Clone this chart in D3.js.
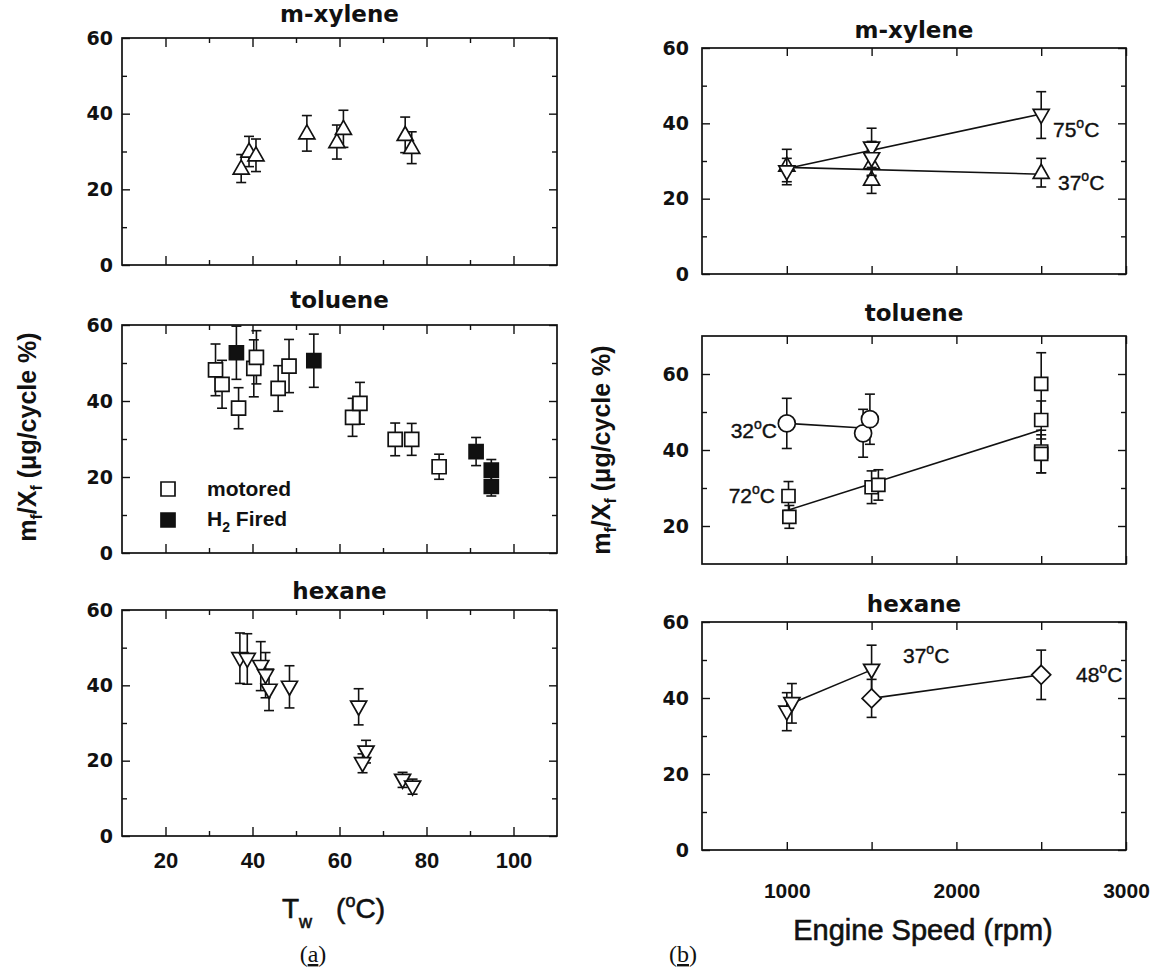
<!DOCTYPE html>
<html>
<head>
<meta charset="utf-8">
<script src="https://cdn.jsdelivr.net/npm/d3@7"></script>
<style>
  body { margin: 0; background: #fff; }
  svg { display: block; }
</style>
</head>
<body>
<div class="canvas"></div>
<script>
// ---- (a) wall temperature panels ----
// m-xylene
const xylTw  = [37.4, 39.2, 40.8, 52.5, 59.4, 60.9, 75.1, 76.6]
const xylVal = [25.5, 30.0, 29.0, 34.8, 32.5, 36.0, 34.4, 31.0]
const xylErr = [3.7, 4.0, 4.3, 4.7, 4.5, 4.9, 4.7, 4.2]

// toluene, motored
const tolMotTw  = [31.5, 33.0, 36.8, 40.3, 40.9, 45.9, 48.4, 63.0, 64.7, 72.8, 76.6, 82.9]
const tolMotVal = [48.2, 44.4, 38.1, 48.6, 51.5, 43.3, 49.2, 35.7, 39.4, 29.9, 29.9, 22.7]
const tolMotErr = [6.8, 6.3, 5.4, 7.5, 7.0, 6.0, 7.0, 5.0, 5.5, 4.3, 4.2, 3.3]
// toluene, H2 fired
const tolFirTw  = [36.3, 54.1, 91.4, 94.9, 94.9]
const tolFirVal = [52.7, 50.6, 26.7, 21.8, 17.5]
const tolFirErr = [7.0, 7.0, 3.7, 2.8, 2.5]

// hexane
const hexTw  = [37.1, 38.8, 41.9, 43.0, 43.8, 48.5, 64.4, 66.1, 65.3, 74.5, 76.8]
const hexVal = [47.2, 47.0, 45.1, 42.7, 38.8, 39.6, 34.3, 22.4, 19.3, 14.9, 13.1]
const hexErr = [6.7, 6.7, 6.5, 6.0, 5.5, 5.6, 4.8, 3.0, 2.5, 2.0, 2.0]

// ---- (b) engine speed panels ----
const xyl37Rpm = [1000, 1500, 1500, 2500]
const xyl37Val = [28.8, 29.4, 25.1, 26.9]
const xyl37Err = [4.3, 3.5, 3.7, 3.8]
const xyl75Rpm = [1000, 1500, 1500, 2500]
const xyl75Val = [27.2, 33.5, 30.7, 42.2]
const xyl75Err = [3.5, 5.2, 4.5, 6.2]
const xyl37Line = [[1000, 28.3], [2500, 26.5]]
const xyl75Line = [[1000, 28.0], [2500, 42.5]]

const tol32Rpm = [1000, 1450, 1490]
const tol32Val = [47.0, 44.4, 48.1]
const tol32Err = [6.6, 6.3, 6.6]
const tol72Rpm = [1010, 1015, 1500, 1540, 2500, 2500, 2500, 2500]
const tol72Val = [27.9, 22.4, 30.2, 30.8, 57.4, 47.9, 39.6, 39.0]
const tol72Err = [3.8, 3.0, 4.3, 4.0, 8.2, 5.0, 5.6, 5.0]
const tol32Line = [[1000, 47.0], [1450, 45.8]]
const tol72Line = [[1015, 24.3], [2500, 45.3]]

const hex37Rpm = [1000, 1030, 1500]
const hex37Val = [36.4, 38.6, 47.4]
const hex37Err = [5.0, 5.2, 6.5]
const hex48Rpm = [1500, 2500]
const hex48Val = [39.9, 46.1]
const hex48Err = [5.0, 6.5]
const hex37Line = [[1030, 38.6], [1500, 47.4]]
const hex48Line = [[1500, 39.9], [2500, 46.1]]

const twTicks = [20, 40, 60, 80, 100]
const twMinor = [30, 50, 70, 90]
const rpmTicks = [1000, 1500, 2000, 2500, 3000]
const rpmLabels = [1000, 2000, 3000]
const valTicks = [0, 20, 40, 60]
const valMinor = [10, 30, 50]
const tolValTicks = [20, 40, 60]
const tolValMinor = [30, 50]

const ink = '#111'

const svg = d3.select('.canvas')
    .append('svg')
    .attr('width', 1162)
    .attr('height', 970)
    .attr('viewBox', '0 0 1162 970')

const makePanel = (o) => {
    const x = d3.scaleLinear().domain(o.xDomain).range(o.xRange)
    const y = d3.scaleLinear().domain(o.yDomain).range(o.yRange)
    const g = svg.append('g')
    const [x0, x1] = o.xRange
    const [yb, yt] = o.yRange

    const addAxis = (axis, tx, ty, style) => {
        const a = g.append('g').attr('transform', `translate(${tx},${ty})`).call(axis)
        a.select('.domain').remove()
        a.attr('font-family', null).attr('font-size', null)
        a.selectAll('line').attr('stroke', ink).attr('stroke-width', 1.4)
        a.selectAll('text').attr('fill', ink)
            .style('font-family', style.family)
            .style('font-size', style.size + 'px')
            .style('font-weight', style.weight)
        return a
    }
    const none = { family: 'sans-serif', size: 1, weight: 'normal' }
    const xFmt = d => (o.showX && o.xLabels.includes(d)) ? d3.format('d')(d) : ''

    // bottom + top
    addAxis(d3.axisBottom(x).tickValues(o.xMajor).tickSize(-o.xMajLen).tickPadding(o.xPad)
        .tickFormat(xFmt), 0, yb, o.xStyle)
    addAxis(d3.axisBottom(x).tickValues(o.xMinor).tickSize(-o.xMinLen).tickFormat(''), 0, yb, none)
    addAxis(d3.axisTop(x).tickValues(o.xMajor).tickSize(-o.xMajLen).tickFormat(''), 0, yt, none)
    addAxis(d3.axisTop(x).tickValues(o.xMinor).tickSize(-o.xMinLen).tickFormat(''), 0, yt, none)
    // left + right
    addAxis(d3.axisLeft(y).tickValues(o.yMajor).tickSize(-8).tickPadding(o.yPad)
        .tickFormat(d3.format('d')), x0, 0, o.yStyle)
    addAxis(d3.axisLeft(y).tickValues(o.yMinor).tickSize(-5).tickFormat(''), x0, 0, none)
    addAxis(d3.axisRight(y).tickValues(o.yMajor).tickSize(-8).tickFormat(''), x1, 0, none)
    addAxis(d3.axisRight(y).tickValues(o.yMinor).tickSize(-5).tickFormat(''), x1, 0, none)

    g.append('rect')
        .attr('x', x0).attr('y', yt)
        .attr('width', x1 - x0).attr('height', yb - yt)
        .attr('fill', 'none').attr('stroke', ink).attr('stroke-width', 1.7)

    g.append('text')
        .attr('x', (x0 + x1) / 2).attr('y', o.titleY)
        .attr('text-anchor', 'middle')
        .attr('font-family', 'DejaVu Sans').attr('font-weight', 'bold').attr('font-size', 23)
        .attr('fill', ink)
        .text(o.title)

    return { x, y, g }
}

const shapePath = (shape) => {
    if (shape === 'up') return 'M0,-8.4L8,5.6L-8,5.6Z'
    if (shape === 'down') return 'M0,8.4L8,-5.6L-8,-5.6Z'
    if (shape === 'square') return 'M-7,-7H7V7H-7Z'
    if (shape === 'sqsmall') return 'M-6.5,-6.5H6.5V6.5H-6.5Z'
    if (shape === 'diamond') return 'M0,-9.5L9.5,0L0,9.5L-9.5,0Z'
    if (shape === 'circle') return 'M-8.5,0A8.5,8.5 0 1,0 8.5,0A8.5,8.5 0 1,0 -8.5,0Z'
}

const drawSeries = (p, xs, ys, es, shape, filled) => {
    const idx = d3.range(xs.length)
    const bars = p.g.append('g').attr('stroke', ink).attr('stroke-width', 1.6)
    bars.selectAll(null).data(idx).join('line')
        .attr('x1', i => p.x(xs[i])).attr('x2', i => p.x(xs[i]))
        .attr('y1', i => p.y(ys[i] - es[i])).attr('y2', i => p.y(ys[i] + es[i]))
    bars.selectAll(null).data(idx).join('line')
        .attr('x1', i => p.x(xs[i]) - 5).attr('x2', i => p.x(xs[i]) + 5)
        .attr('y1', i => p.y(ys[i] + es[i])).attr('y2', i => p.y(ys[i] + es[i]))
    bars.selectAll(null).data(idx).join('line')
        .attr('x1', i => p.x(xs[i]) - 5).attr('x2', i => p.x(xs[i]) + 5)
        .attr('y1', i => p.y(ys[i] - es[i])).attr('y2', i => p.y(ys[i] - es[i]))

    p.g.append('g').selectAll(null).data(idx).join('path')
        .attr('d', shapePath(shape))
        .attr('transform', i => `translate(${p.x(xs[i])},${p.y(ys[i])})`)
        .attr('fill', filled ? ink : '#fff')
        .attr('stroke', ink).attr('stroke-width', 1.7)
}

const drawFit = (p, pts) => {
    p.g.append('path')
        .datum(pts)
        .attr('fill', 'none').attr('stroke', ink).attr('stroke-width', 1.6)
        .attr('d', d3.line().x(d => p.x(d[0])).y(d => p.y(d[1])))
}

const note = (x, y, label, anchor) => {
    const t = svg.append('text')
        .attr('x', x).attr('y', y).attr('text-anchor', anchor || 'start')
        .attr('font-family', 'Liberation Sans, Arial, sans-serif').attr('font-size', 21)
        .attr('fill', ink).attr('stroke', ink).attr('stroke-width', 0.4)
    t.append('tspan').text(label.replace('°C', ''))
    t.append('tspan').attr('font-size', 14).attr('dy', -9).text('o')
    t.append('tspan').attr('dy', 9).text('C')
}

// ---------- column (a) ----------
const leftBase = {
    xDomain: [10, 110], xRange: [122, 557],
    xMajor: twTicks, xMinor: twMinor, xLabels: twTicks, xMajLen: 9, xMinLen: 5, xPad: 16,
    yDomain: [0, 60], yMajor: valTicks, yMinor: valMinor, yPad: 9,
    yStyle: { family: 'DejaVu Sans', size: 19, weight: 'bold' },
    xStyle: { family: 'Liberation Sans, Arial, sans-serif', size: 22, weight: 'bold' }
}

const pA1 = makePanel({ ...leftBase, yRange: [265, 38], title: 'm-xylene', titleY: 22, showX: false })
drawSeries(pA1, xylTw, xylVal, xylErr, 'up', false)

const pA2 = makePanel({ ...leftBase, yRange: [553, 325], title: 'toluene', titleY: 308, showX: false })
drawSeries(pA2, tolMotTw, tolMotVal, tolMotErr, 'square', false)
drawSeries(pA2, tolFirTw, tolFirVal, tolFirErr, 'square', true)

const pA3 = makePanel({ ...leftBase, yRange: [836, 610], title: 'hexane', titleY: 599, showX: true })
drawSeries(pA3, hexTw, hexVal, hexErr, 'down', false)

// legend in toluene panel
const legend = svg.append('g')
    .attr('font-family', 'Liberation Sans, Arial, sans-serif').attr('font-size', 21)
    .attr('font-weight', 'bold').attr('fill', ink)
legend.append('path').attr('d', shapePath('square')).attr('transform', 'translate(168,489)')
    .attr('fill', '#fff').attr('stroke', ink).attr('stroke-width', 1.7)
legend.append('path').attr('d', shapePath('square')).attr('transform', 'translate(168,520)')
    .attr('fill', ink).attr('stroke', ink).attr('stroke-width', 1.7)
legend.append('text').attr('x', 207).attr('y', 496).text('motored')
const h2 = legend.append('text').attr('x', 207).attr('y', 526)
h2.append('tspan').text('H')
h2.append('tspan').attr('font-size', 14).attr('dy', 6).text('2')
h2.append('tspan').attr('dy', -6).text(' Fired')

// ---------- column (b) ----------
const rightBase = {
    xDomain: [500, 3000], xRange: [702, 1126],
    xMajor: rpmTicks, xMinor: [], xLabels: rpmLabels, xMajLen: 8, xMinLen: 4, xPad: 33,
    yPad: 13,
    yStyle: { family: 'DejaVu Sans', size: 19, weight: 'bold' },
    xStyle: { family: 'Liberation Sans, Arial, sans-serif', size: 21, weight: 'bold' }
}

const pB1 = makePanel({ ...rightBase, yDomain: [0, 60], yRange: [274, 48], yMajor: valTicks, yMinor: valMinor,
    title: 'm-xylene', titleY: 38, showX: false })
drawFit(pB1, xyl37Line)
drawFit(pB1, xyl75Line)
drawSeries(pB1, xyl37Rpm, xyl37Val, xyl37Err, 'up', false)
drawSeries(pB1, xyl75Rpm, xyl75Val, xyl75Err, 'down', false)
note(1053, 137, '75°C')
note(1058, 190, '37°C')

const pB2 = makePanel({ ...rightBase, yDomain: [10, 70], yRange: [564, 336], yMajor: tolValTicks, yMinor: tolValMinor,
    title: 'toluene', titleY: 321, showX: false })
drawFit(pB2, tol32Line)
drawFit(pB2, tol72Line)
drawSeries(pB2, tol32Rpm, tol32Val, tol32Err, 'circle', false)
drawSeries(pB2, tol72Rpm, tol72Val, tol72Err, 'sqsmall', false)
note(777, 438, '32°C', 'end')
note(775, 503, '72°C', 'end')

const pB3 = makePanel({ ...rightBase, yDomain: [0, 60], yRange: [850, 622], yMajor: valTicks, yMinor: valMinor,
    title: 'hexane', titleY: 612, showX: true })
drawFit(pB3, hex37Line)
drawFit(pB3, hex48Line)
drawSeries(pB3, hex37Rpm, hex37Val, hex37Err, 'down', false)
drawSeries(pB3, hex48Rpm, hex48Val, hex48Err, 'diamond', false)
note(903, 663, '37°C')
note(1076, 682, '48°C')

// ---------- axis titles ----------
const yTitle = (x, y) => {
    const t = svg.append('text')
        .attr('transform', `translate(${x},${y}) rotate(-90)`)
        .attr('text-anchor', 'middle')
        .attr('font-family', 'Liberation Sans, Arial, sans-serif').attr('font-size', 25)
        .attr('font-weight', 'bold').attr('fill', ink)
    t.append('tspan').text('m')
    t.append('tspan').attr('font-size', 16).attr('dy', 6).text('f')
    t.append('tspan').attr('dy', -6).text('/X')
    t.append('tspan').attr('font-size', 16).attr('dy', 6).text('f')
    t.append('tspan').attr('dy', -6).text(' (μg/cycle %)')
}
yTitle(36, 437)
yTitle(610, 450)

const twTitle = svg.append('text')
    .attr('x', 282).attr('y', 918)
    .attr('font-family', 'Liberation Sans, Arial, sans-serif').attr('font-size', 28).attr('fill', ink)
    .attr('stroke', ink).attr('stroke-width', 0.6)
twTitle.append('tspan').text('T')
twTitle.append('tspan').attr('font-size', 18).attr('dy', 10).text('w')
twTitle.append('tspan').attr('dy', -10).attr('dx', 24).text('(')
twTitle.append('tspan').attr('font-size', 18).attr('dy', -11).text('o')
twTitle.append('tspan').attr('dy', 11).text('C)')

svg.append('text')
    .attr('x', 923).attr('y', 940).attr('text-anchor', 'middle')
    .attr('font-family', 'Liberation Sans, Arial, sans-serif').attr('font-size', 29).attr('fill', ink)
    .attr('stroke', ink).attr('stroke-width', 0.6)
    .text('Engine Speed (rpm)')

const sub = (x, letter) => {
    const t = svg.append('text')
        .attr('x', x).attr('y', 962).attr('text-anchor', 'middle')
        .attr('font-family', 'Liberation Serif, Times New Roman, serif').attr('font-size', 24).attr('fill', ink)
    t.append('tspan').text('(')
    t.append('tspan').attr('text-decoration', 'underline').text(letter)
    t.append('tspan').text(')')
}
sub(313, 'a')
sub(683, 'b')
</script>
</body>
</html>
